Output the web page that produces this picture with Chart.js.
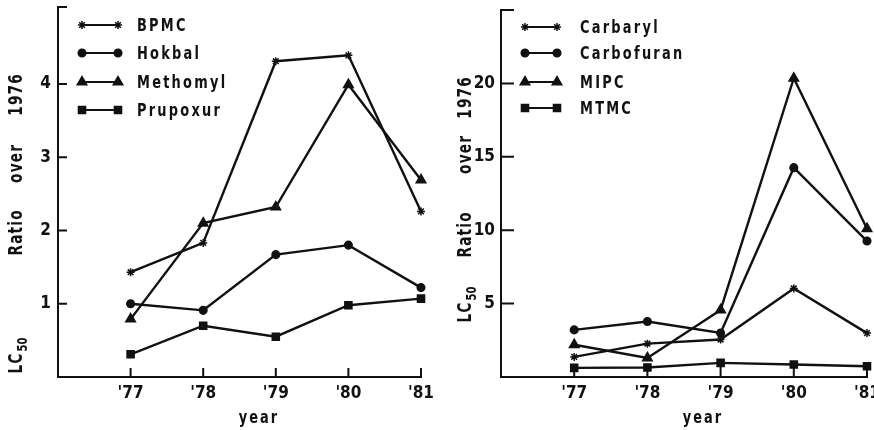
<!DOCTYPE html>
<html>
<head>
<meta charset="utf-8">
<script src="https://cdn.jsdelivr.net/npm/chart.js@4.4.1/dist/chart.umd.min.js"></script>
<style>
  body { margin: 0; background: #fff; }
  #wrap { position: relative; width: 874px; height: 430px; }
  #left, #right { position: absolute; top: 0; }
  #left { left: 0; }
  #right { left: 437px; }
</style>
</head>
<body>
<div id="wrap">
  <canvas id="left" width="437" height="430"></canvas>
  <canvas id="right" width="437" height="430"></canvas>
</div>
<script>
const years = [77, 78, 79, 80, 81];
const xTickLabels = ["'77", "'78", "'79", "'80", "'81"];

const leftNames = ['BPMC', 'Hokbal', 'Methomyl', 'Prupoxur'];
const bpmc     = [1.43, 1.83, 4.31, 4.39, 2.26];
const hokbal   = [1.00, 0.91, 1.67, 1.80, 1.22];
const methomyl = [0.79, 2.10, 2.32, 3.99, 2.69];
const prupoxur = [0.31, 0.70, 0.55, 0.98, 1.07];
const leftYTicks = [1, 2, 3, 4];

const rightNames = ['Carbaryl', 'Carbofuran', 'MIPC', 'MTMC'];
const carbaryl   = [1.37, 2.27, 2.55, 6.03, 2.99];
const carbofuran = [3.21, 3.78, 3.00, 14.26, 9.26];
const mipc       = [2.20, 1.30, 4.57, 20.35, 10.10];
const mtmc       = [0.62, 0.65, 0.96, 0.85, 0.73];
const rightYTicks = [5, 10, 15, 20];

const yTitleWords = ['Ratio', 'over', '1976'];
const xTitle = 'year';

const INK = '#111';
const FONT = '"Liberation Sans Narrow", "DejaVu Sans Condensed", "Roboto Condensed", sans-serif';
const markerStyles = ['star', 'circle', 'triangle', 'rect'];
const markerRadii = [4, 3.8, 5.5, 5];

// narrow, letter-spaced print text (the old typewriter-ish look)
function printText(ctx, text, x, y, size, spacing, align) {
  const sx = 0.8;
  ctx.save();
  ctx.font = 'bold ' + size + 'px ' + FONT;
  ctx.letterSpacing = spacing + 'px';
  ctx.textBaseline = 'middle';
  ctx.textAlign = 'left';
  const w = (ctx.measureText(text).width - spacing) * sx;
  let x0 = x;
  if (align === 'center') x0 = x - w / 2;
  ctx.translate(x0, y);
  ctx.scale(sx, 1);
  ctx.fillText(text, 0, 0);
  ctx.restore();
  return w;
}

function build(id, names, series, yMax, yTicks, geo) {
  // axis ticks point inward, titles and legend are drawn by hand
  const handDrawn = {
    id: 'handDrawn',
    afterDraw(chart) {
      const ctx = chart.ctx;
      const a = chart.chartArea;
      const xs = chart.scales.x, ys = chart.scales.y;
      ctx.save();
      ctx.strokeStyle = INK;
      ctx.fillStyle = INK;
      ctx.lineWidth = 2;
      ctx.beginPath();
      years.forEach(v => {
        const px = xs.getPixelForValue(v);
        ctx.moveTo(px, a.bottom);
        ctx.lineTo(px, a.bottom - geo.xTick);
      });
      yTicks.concat([yMax]).forEach(v => {
        const py = ys.getPixelForValue(v);
        ctx.moveTo(a.left, py);
        ctx.lineTo(a.left + geo.yTick, py);
      });
      ctx.stroke();

      // y title, rotated
      ctx.save();
      ctx.translate(geo.yTitleX, 0);
      ctx.rotate(-Math.PI / 2);
      yTitleWords.forEach((w, i) => printText(ctx, w, -geo.yTitleYs[i + 1], 0, 19, 1.5, 'center'));
      // LC with subscript 50
      ctx.font = 'bold 19px ' + FONT;
      ctx.letterSpacing = '1.5px';
      const w1 = ctx.measureText('LC').width * 0.8;
      ctx.font = 'bold 14px ' + FONT;
      ctx.letterSpacing = '0px';
      const w2 = ctx.measureText('50').width * 0.8;
      const sx = -geo.yTitleYs[0] - (w1 + w2) / 2;
      printText(ctx, 'LC', sx, 0, 19, 1.5, 'left');
      printText(ctx, '50', sx + w1 + 1, 6, 14, 0, 'left');
      ctx.restore();

      // x title
      printText(ctx, xTitle, geo.xTitle[0], geo.xTitle[1], 18, 2.5, 'center');

      // legend
      chart.data.datasets.forEach((ds, i) => {
        const y = geo.legendRows[i];
        ctx.lineWidth = 2;
        ctx.beginPath();
        ctx.moveTo(geo.legendLine[0], y);
        ctx.lineTo(geo.legendLine[1], y);
        ctx.stroke();
        const po = { pointStyle: ds.pointStyle, radius: ds.pointRadius, rotation: 0, borderWidth: 1.5 };
        ctx.lineWidth = 1.5;
        Chart.helpers.drawPoint(ctx, po, geo.legendLine[0], y);
        Chart.helpers.drawPoint(ctx, po, geo.legendLine[1], y);
        printText(ctx, ds.label, geo.legendText, y + 1, 18, 2.8, 'left');
      });
      ctx.restore();
    }
  };

  return new Chart(document.getElementById(id), {
    type: 'line',
    data: {
      datasets: series.map((s, i) => ({
        label: names[i],
        data: years.map((x, j) => ({ x: x, y: s[j] })),
        borderColor: INK,
        borderWidth: 2.4,
        pointStyle: markerStyles[i],
        pointRadius: markerRadii[i],
        pointBackgroundColor: INK,
        pointBorderColor: INK,
        pointBorderWidth: 1.5,
        tension: 0,
        clip: false
      }))
    },
    options: {
      responsive: false,
      animation: false,
      events: [],
      layout: { padding: { left: 0, top: geo.top, right: geo.right, bottom: 0 } },
      plugins: { legend: { display: false }, tooltip: { enabled: false } },
      scales: {
        x: {
          type: 'linear', min: 76, max: 81,
          grid: { display: false, drawTicks: false },
          border: { display: true, color: INK, width: 2 },
          afterBuildTicks: s => { s.ticks = years.map(v => ({ value: v })); },
          afterFit: s => { s.height = 430 - geo.bottom; s.paddingLeft = 0; s.paddingRight = 0; },
          ticks: {
            color: INK, padding: 6, maxRotation: 0, autoSkip: false,
            font: { family: FONT, size: 17, weight: 'bold' },
            callback: v => xTickLabels[years.indexOf(v)] || ''
          }
        },
        y: {
          min: 0, max: yMax,
          grid: { display: false, drawTicks: false },
          border: { display: true, color: INK, width: 2 },
          afterBuildTicks: s => { s.ticks = yTicks.map(v => ({ value: v })); },
          afterFit: s => { s.width = geo.left; s.paddingTop = 0; s.paddingBottom = 0; },
          ticks: {
            color: INK, padding: geo.yPad,
            font: { family: FONT, size: 17, weight: 'bold' }
          }
        }
      }
    },
    plugins: [handDrawn]
  });
}

build('left', leftNames, [bpmc, hokbal, methomyl, prupoxur], 5.05, leftYTicks, {
  left: 58, top: 6, right: 16, bottom: 377, yPad: 7,
  xTick: 9, yTick: 9,
  yTitleX: 17, yTitleYs: [356, 233, 164, 95],
  xTitle: [258, 418],
  legendRows: [25, 53, 82, 110], legendLine: [82, 118], legendText: 137
});

build('right', rightNames, [carbaryl, carbofuran, mipc, mtmc], 25, rightYTicks, {
  left: 64, top: 10, right: 7, bottom: 377, yPad: 6,
  xTick: 10, yTick: 13,
  yTitleX: 29, yTitleYs: [305, 235, 155, 98],
  xTitle: [265, 418],
  legendRows: [27, 53, 82, 108], legendLine: [88, 120], legendText: 143
});
</script>
</body>
</html>
